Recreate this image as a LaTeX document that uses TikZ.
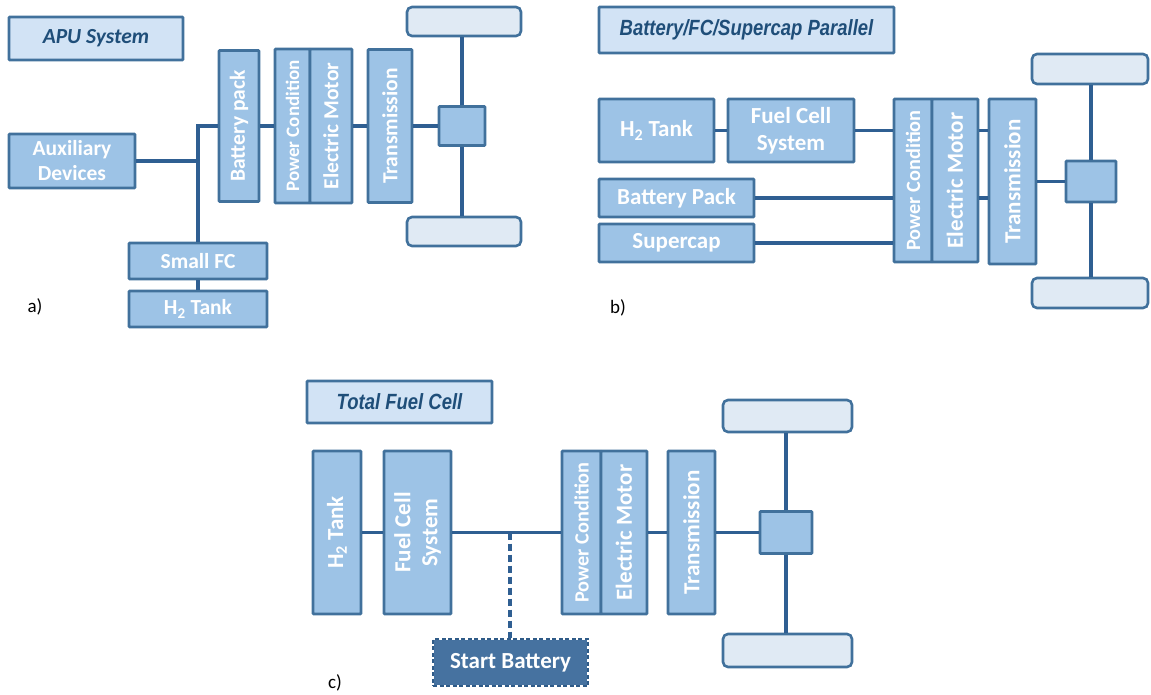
\documentclass[tikz,border=0pt]{standalone}
\usepackage{fontspec}
\setmainfont{Carlito}
\newfontfamily\titlef{Liberation Sans}[FakeStretch=0.84]
\definecolor{boxc}{HTML}{9DC3E6}
\definecolor{bordc}{HTML}{41719C}
\definecolor{linec}{HTML}{2F5F92}
\definecolor{titlec}{HTML}{D2E3F5}
\definecolor{titletext}{HTML}{1F4E79}
\definecolor{wheelc}{HTML}{E0EAF4}
\definecolor{darkc}{HTML}{4672A0}
\definecolor{darkb}{HTML}{2F5B88}
\begin{document}
\begin{tikzpicture}[x=1pt,y=-1pt,
  box/.style={draw=bordc, fill=boxc, line width=2.6pt, text=white, inner sep=0pt, align=center, rounded corners=0.8pt},
  tbox/.style={draw=bordc, fill=titlec, line width=2.6pt, text=titletext, inner sep=0pt, rounded corners=0.8pt},
  wheel/.style={draw=bordc, fill=wheelc, line width=2.6pt, rounded corners=5pt, inner sep=0pt},
  startbox/.style={fill=darkc, draw=white, line width=2.6pt, text=white, inner sep=0pt,
    postaction={draw=darkb, line width=2.6pt, dash pattern=on 4pt off 2.5pt}},
  conn/.style={draw=linec, line width=3.4pt},
  dconn/.style={draw=linec, line width=3.4pt, dash pattern=on 7pt off 4pt},
  fa/.style={font=\fontsize{21.5}{25}\selectfont\bfseries},
  fb/.style={font=\fontsize{23}{27}\selectfont\bfseries},
  fpa/.style={font=\fontsize{19}{23}\selectfont\bfseries},
  fpb/.style={font=\fontsize{20.3}{24}\selectfont\bfseries},
  ftA/.style={font=\fontsize{21.5}{25}\selectfont\bfseries\itshape},
  ftB/.style={font=\titlef\fontsize{22}{26}\selectfont\bfseries\itshape},
  lab/.style={font=\fontsize{19}{22}\selectfont, inner sep=0pt}
]
\useasboundingbox (0,0) rectangle (1151,695);

% ---------------- panel a ----------------
\node[tbox, ftA, minimum width=174, minimum height=43] (tA) at (96,38.5) {APU System};
\node[box, fa, minimum width=126, minimum height=54] (aux) at (72,161) {Auxiliary\\Devices};
\node[box, fa, rotate=90, minimum width=151, minimum height=40] (batA) at (239,126) {Battery pack};
\node[box, fpa, rotate=90, minimum width=154, minimum height=35] (pcA) at (292.5,126) {Power Condition};
\node[box, fa, rotate=90, minimum width=154, minimum height=42] (emA) at (331,126) {Electric Motor};
\node[box, fa, rotate=90, minimum width=153, minimum height=44] (trA) at (390,126) {Transmission};
\node[box, minimum width=46, minimum height=39] (dfA) at (462,126) {};
\node[wheel, minimum width=114, minimum height=29] (wA1) at (464,21.5) {};
\node[wheel, minimum width=114, minimum height=29] (wA2) at (464,231.5) {};
\node[box, fa, minimum width=138, minimum height=36] (sfc) at (198,261) {Small FC};
\node[box, fa, minimum width=138, minimum height=36] (h2A) at (198,309) {H\textsubscript{2} Tank};
\coordinate (busA) at (198,126);
\node[lab] (la) at (35,307) {a)};

\draw[conn] (aux) -- (aux -| busA);
\draw[conn] (batA) -- (busA) -- (sfc);
\draw[conn] (sfc) -- (h2A);
\draw[conn] (batA) -- (pcA);
\draw[conn] (emA) -- (trA);
\draw[conn] (trA) -- (dfA);
\draw[conn] (dfA.north) -- (dfA.north |- wA1.south);
\draw[conn] (dfA.south) -- (dfA.south |- wA2.north);

% ---------------- panel b ----------------
\node[tbox, ftB, minimum width=295, minimum height=46] (tB) at (746.5,30) {Battery/FC/Supercap Parallel};
\node[box, fb, minimum width=115, minimum height=63] (h2B) at (656.5,130.5) {H\textsubscript{2} Tank};
\node[box, fb, minimum width=126, minimum height=63] (fcB) at (791,130.5) {Fuel Cell\\System};
\node[box, fb, minimum width=155, minimum height=38] (batB) at (676.5,198) {Battery Pack};
\node[box, fb, minimum width=155, minimum height=38] (supB) at (676.5,243) {Supercap};
\node[box, fpb, rotate=90, minimum width=163, minimum height=38] (pcB) at (913,180.5) {Power Condition};
\node[box, fb, rotate=90, minimum width=163, minimum height=46] (emB) at (955,180.5) {Electric Motor};
\node[box, fb, rotate=90, minimum width=165, minimum height=47] (trB) at (1012.5,181.5) {Transmission};
\node[box, minimum width=50, minimum height=41] (dfB) at (1091,181.5) {};
\node[wheel, minimum width=116, minimum height=30] (wB1) at (1090,69) {};
\node[wheel, minimum width=116, minimum height=30] (wB2) at (1090,293) {};
\node[lab] (lb) at (618,308) {b)};

\draw[conn] (h2B) -- (fcB);
\draw[conn] (fcB.east) -- (fcB.east -| pcB.north);
\draw[conn] (batB.east) -- (batB.east -| pcB.north);
\draw[conn] (supB.east) -- (supB.east -| pcB.north);
\draw[conn] (emB.south |- fcB) -- (trB.north |- fcB);
\draw[conn] (emB.south |- batB) -- (trB.north |- batB);
\draw[conn] (trB) -- (dfB);
\draw[conn] (dfB.north) -- (dfB.north |- wB1.south);
\draw[conn] (dfB.south) -- (dfB.south |- wB2.north);

% ---------------- panel c ----------------
\node[tbox, ftB, minimum width=185, minimum height=42] (tC) at (399.5,402) {Total Fuel Cell};
\node[box, fb, rotate=90, minimum width=163, minimum height=48] (h2C) at (337,532.5) {H\textsubscript{2} Tank};
\node[box, fb, rotate=90, minimum width=163, minimum height=67] (fcC) at (417.5,532.5) {Fuel Cell\\System};
\node[box, fpb, rotate=90, minimum width=163, minimum height=39] (pcC) at (581.5,532.5) {Power Condition};
\node[box, fb, rotate=90, minimum width=163, minimum height=46] (emC) at (624,532.5) {Electric Motor};
\node[box, fb, rotate=90, minimum width=163, minimum height=47] (trC) at (691.5,532.5) {Transmission};
\node[box, minimum width=52, minimum height=42] (dfC) at (786,532.5) {};
\node[wheel, minimum width=129, minimum height=32] (wC1) at (787.5,416) {};
\node[wheel, minimum width=129, minimum height=33] (wC2) at (787.5,650.5) {};
\node[startbox, fb, minimum width=155, minimum height=47] (stB) at (510.5,662.5) {Start Battery};
\coordinate (jC) at (510,532.5);
\node[lab] (lc) at (335,683) {c)};

\draw[conn] (h2C) -- (fcC);
\draw[conn] (fcC) -- (pcC);
\draw[conn] (emC) -- (trC);
\draw[conn] (trC) -- (dfC);
\draw[dconn] (jC) -- (jC |- stB.north);
\draw[conn] (dfC.north) -- (dfC.north |- wC1.south);
\draw[conn] (dfC.south) -- (dfC.south |- wC2.north);
\end{tikzpicture}
\end{document}
